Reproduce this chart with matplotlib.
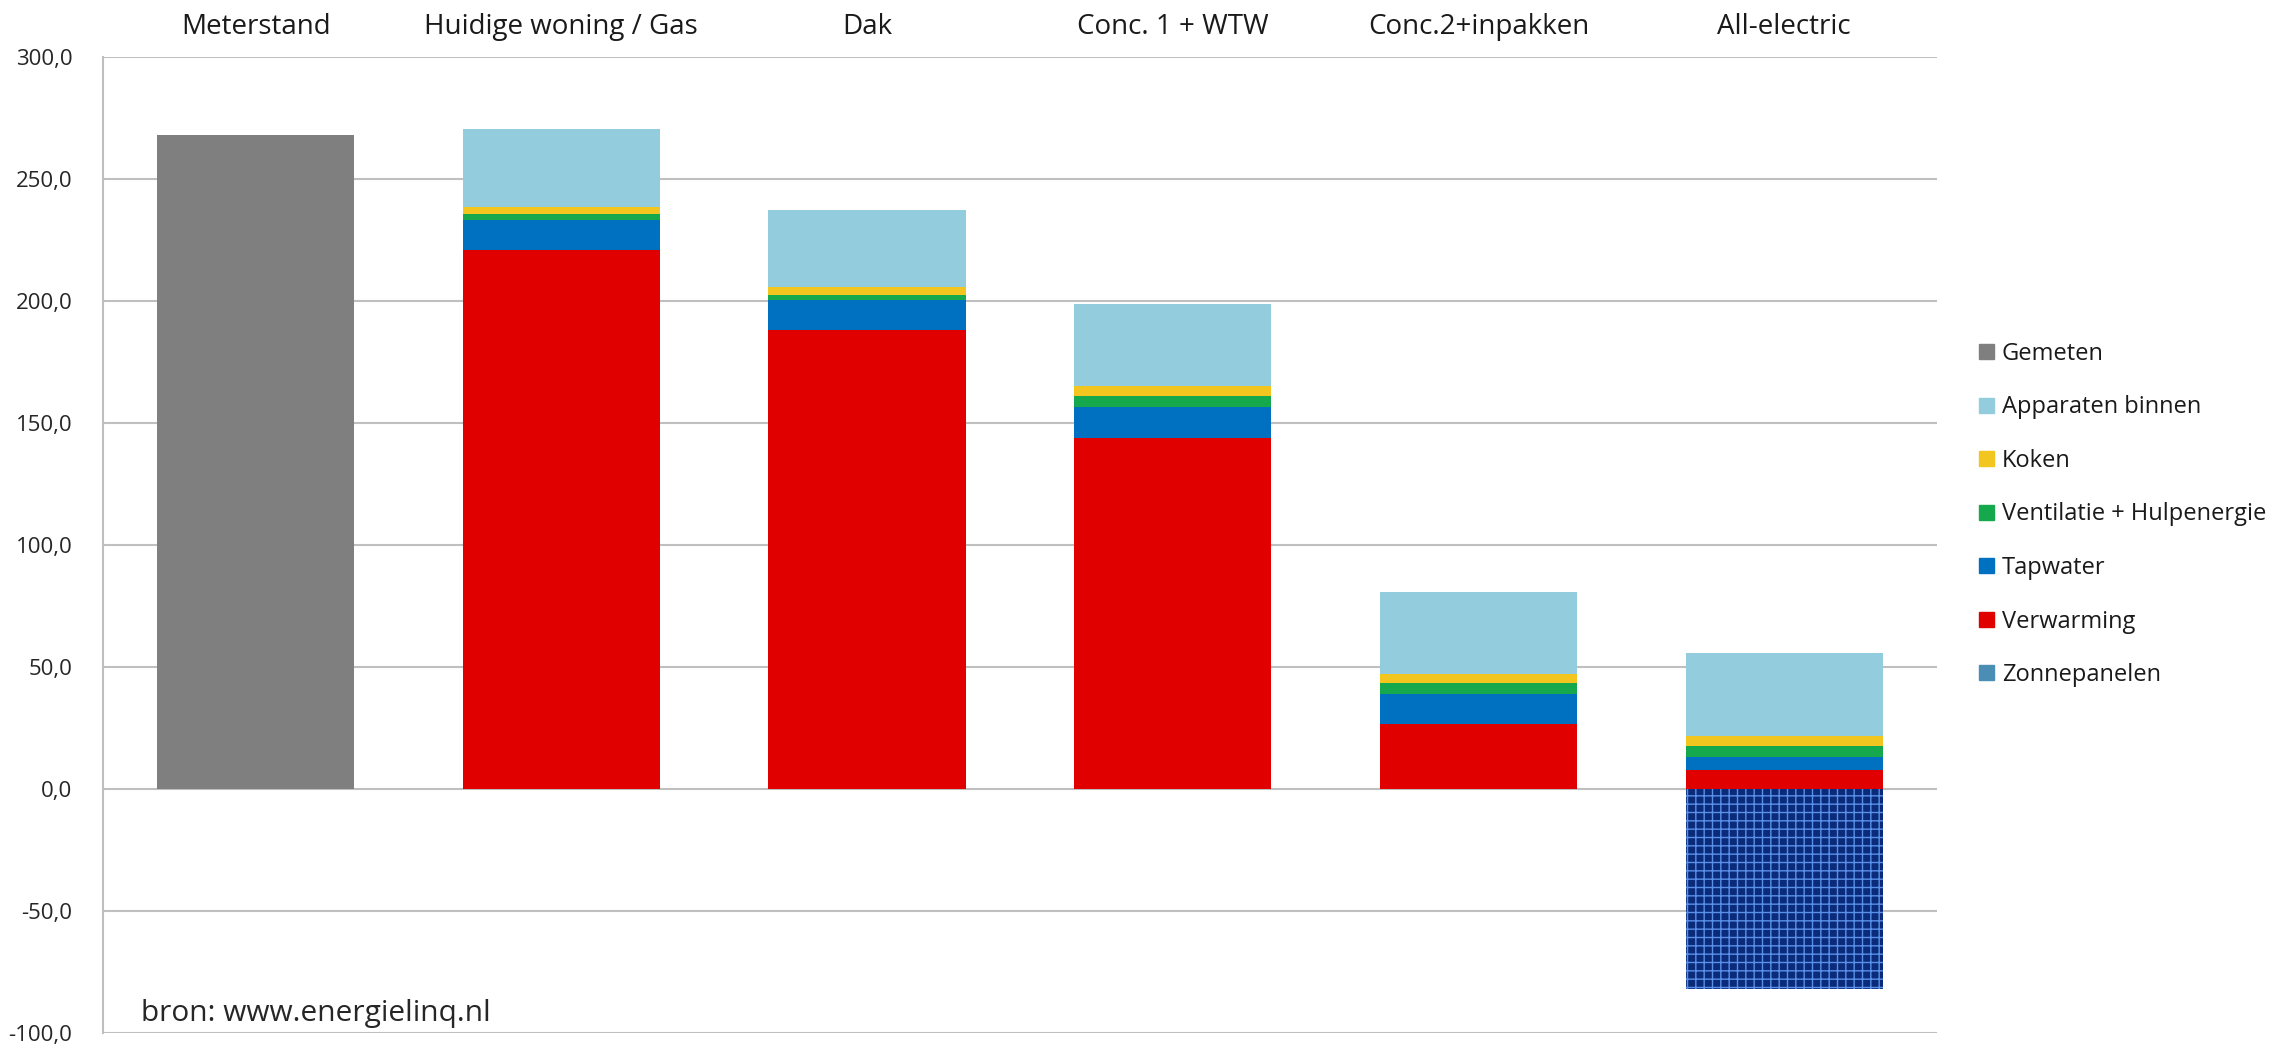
import numpy as np
import matplotlib.pyplot as plt
from matplotlib.patches import Patch

plt.rcParams["font.family"] = ["Open Sans", "DejaVu Sans"]
plt.rcParams["hatch.linewidth"] = 1.0

categories = ["Meterstand", "Huidige woning / Gas", "Dak", "Conc. 1 + WTW",
              "Conc.2+inpakken", "All-electric"]
gemeten = [268, 0, 0, 0, 0, 0]
verwarming = [0, 221, 188, 144, 26.6, 7.8]
tapwater = [0, 12, 12.2, 12.7, 12.3, 5.3]
ventilatie = [0, 2.5, 2, 4.5, 4.5, 4.5]
koken = [0, 3, 3.5, 4, 3.7, 4.1]
apparaten = [0, 32, 31.5, 33.6, 33.6, 34]
zonnepanelen = [0, 0, 0, 0, 0, -82]

yticks = [300, 250, 200, 150, 100, 50, 0, -50, -100]

c_gem = "#7f7f7f"
c_app = "#93cddd"
c_kok = "#f2c61f"
c_ven = "#16a84c"
c_tap = "#0070c0"
c_ver = "#e00000"
c_zon = "#4a8db5"

fig = plt.figure(figsize=(22.85, 10.5), dpi=100)
ax = fig.add_axes([0.045, 0.016, 0.8027, 0.93])

x = np.arange(len(categories))
w = 0.645

ax.bar(x, gemeten, w, color=c_gem, zorder=2)
bottom = np.zeros(len(categories))
for vals, col in [(verwarming, c_ver), (tapwater, c_tap), (ventilatie, c_ven),
                  (koken, c_kok), (apparaten, c_app)]:
    ax.bar(x, vals, w, bottom=bottom, color=col, zorder=2)
    bottom += np.array(vals)
ax.bar(x, zonnepanelen, w, facecolor="#0a2a7a", edgecolor="#5a90e8",
       hatch="++", linewidth=0, zorder=2)

ax.set_xlim(-0.5, len(categories) - 0.5)
ax.set_ylim(-100, 300)
ax.set_yticks(yticks)
ax.set_yticklabels([f"{v:.1f}".replace(".", ",") for v in yticks],
                   fontsize=16, color="#262626")
ax.set_xticks(x)
ax.set_xticklabels(categories, fontsize=20, color="#1a1a1a")
ax.xaxis.tick_top()
ax.tick_params(axis="x", length=0, pad=11)
ax.tick_params(axis="y", length=0, pad=22)

ax.yaxis.grid(True, color="#bfbfbf", linewidth=1.5, zorder=0)
ax.set_axisbelow(True)
for s in ["top", "right", "bottom"]:
    ax.spines[s].set_visible(False)
ax.spines["left"].set_color("#bfbfbf")
ax.spines["left"].set_linewidth(1.5)

ax.text(0.021, 0.013, "bron: www.energielinq.nl", transform=ax.transAxes,
        fontsize=21.5, color="#262626", va="baseline")

handles = [Patch(color=c_gem, label="Gemeten"),
           Patch(color=c_app, label="Apparaten binnen"),
           Patch(color=c_kok, label="Koken"),
           Patch(color=c_ven, label="Ventilatie + Hulpenergie"),
           Patch(color=c_tap, label="Tapwater"),
           Patch(color=c_ver, label="Verwarming"),
           Patch(color=c_zon, label="Zonnepanelen")]
fig.legend(handles=handles, loc="center left", bbox_to_anchor=(0.857, 0.51),
           frameon=False, fontsize=17, handlelength=0.6, handleheight=0.6,
           handletextpad=0.35, labelspacing=1.25, labelcolor="#1a1a1a")

fig.savefig("out.png", dpi=100)
